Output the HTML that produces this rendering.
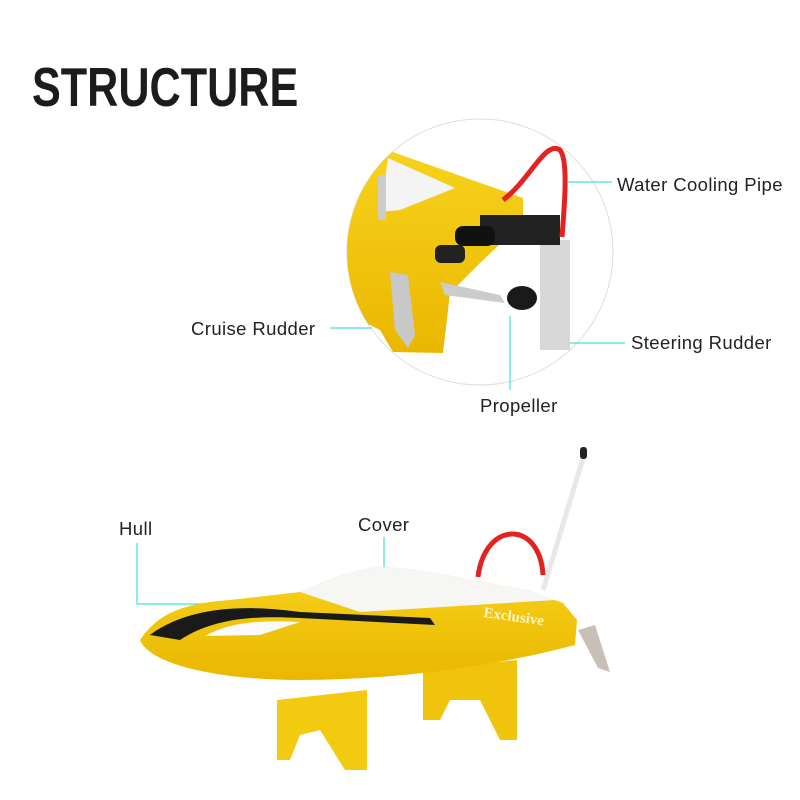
<!DOCTYPE html>
<html><head><meta charset="utf-8"><style>
body{margin:0;width:800px;height:800px;background:#fff;overflow:hidden;position:relative;font-family:"Liberation Sans",sans-serif}
.t{position:absolute;color:#222;font-size:18.5px;white-space:nowrap;letter-spacing:0.4px}
h1{position:absolute;left:32px;top:55px;margin:0;font-size:55px;font-weight:900;color:#1c1c1c;transform:scaleX(0.785);transform-origin:left}
</style></head><body>
<h1>STRUCTURE</h1>
<svg width="800" height="800" style="position:absolute;left:0;top:0">
<defs><clipPath id="c"><circle cx="480" cy="252" r="133"/></clipPath>
<linearGradient id="y" x1="0" y1="0" x2="0" y2="1"><stop offset="0" stop-color="#f7d21c"/><stop offset="1" stop-color="#eab700"/></linearGradient></defs>
<circle cx="480" cy="252" r="133" fill="#fff" stroke="#ddd" stroke-width="1"/>
<g clip-path="url(#c)">
<polygon points="387,150 523,198 523,222 480,263 450,293 443,353 393,352 380,330 360,320 345,300 345,170" fill="url(#y)"/>
<polygon points="388,158 455,188 400,210 380,212" fill="#f4f4f4"/>
<rect x="378" y="175" width="8" height="45" fill="#ccc"/>
<rect x="540" y="240" width="30" height="110" fill="#d8d8d8"/>
<rect x="480" y="215" width="80" height="30" fill="#222"/>
<rect x="455" y="226" width="40" height="20" rx="8" fill="#111"/>
<rect x="435" y="245" width="30" height="18" rx="6" fill="#222"/>
<polygon points="440,282 500,295 505,303 445,295" fill="#ccc"/>
<ellipse cx="522" cy="298" rx="15" ry="12" fill="#1a1a1a"/>
<polygon points="390,272 408,275 415,335 408,348 395,330" fill="#c8c8c8"/>
<path d="M503,200 C530,180 545,140 560,150 C568,160 565,200 562,237" fill="none" stroke="#e32222" stroke-width="5"/>
</g>
<g stroke="#3ee0e0" stroke-width="1.2" fill="none">
<line x1="567" y1="182" x2="612" y2="182"/>
<line x1="330" y1="328" x2="372" y2="328"/>
<line x1="570" y1="343" x2="625" y2="343"/>
<polyline points="510,316 510,390"/>
<polyline points="137,543 137,604 212,604"/>
<line x1="384" y1="537" x2="384" y2="570"/>
</g>
<line x1="543" y1="590" x2="585" y2="452" stroke="#e8e8e8" stroke-width="5"/>
<rect x="580" y="447" width="7" height="12" rx="3" fill="#222"/>
<path d="M478,577 C485,520 540,520 543,575" fill="none" stroke="#e32222" stroke-width="5"/>
<polygon points="578,630 595,625 610,672 598,668" fill="#c9c0b5"/>
<polygon points="277,700 367,690 367,770 345,770 320,730 300,735 290,760 277,760" fill="#f2cb10"/>
<polygon points="423,670 517,660 517,740 500,740 480,700 450,700 440,720 423,720" fill="#f0c40c"/>
<path d="M140,640 C160,610 190,603 230,600 L300,592 C330,578 360,568 380,567 C420,568 470,580 527,590 L563,603 L577,620 L575,645 C500,665 400,680 300,680 C220,680 150,665 140,640 Z" fill="url(#y)"/>
<path d="M300,592 C330,578 360,568 380,567 C420,568 470,580 527,590 L555,600 L360,612 Z" fill="#f6f6f4"/>
<path d="M150,635 C190,605 250,605 300,612 L430,618 L435,625 L300,618 C250,615 210,620 180,640 Z" fill="#1a1a1a"/>
<path d="M205,636 C230,622 260,620 300,622 L260,635 Z" fill="#fafafa"/>
<text x="483" y="617" font-family="Liberation Serif,serif" font-weight="bold" font-size="15" fill="#fff5c0" transform="rotate(8 483 617)">Exclusive</text>
</svg>
<div class="t" style="left:617px;top:174px">Water Cooling Pipe</div>
<div class="t" style="left:191px;top:318px">Cruise Rudder</div>
<div class="t" style="left:631px;top:332px">Steering Rudder</div>
<div class="t" style="left:480px;top:395px">Propeller</div>
<div class="t" style="left:119px;top:518px">Hull</div>
<div class="t" style="left:358px;top:514px">Cover</div>
</body></html>
